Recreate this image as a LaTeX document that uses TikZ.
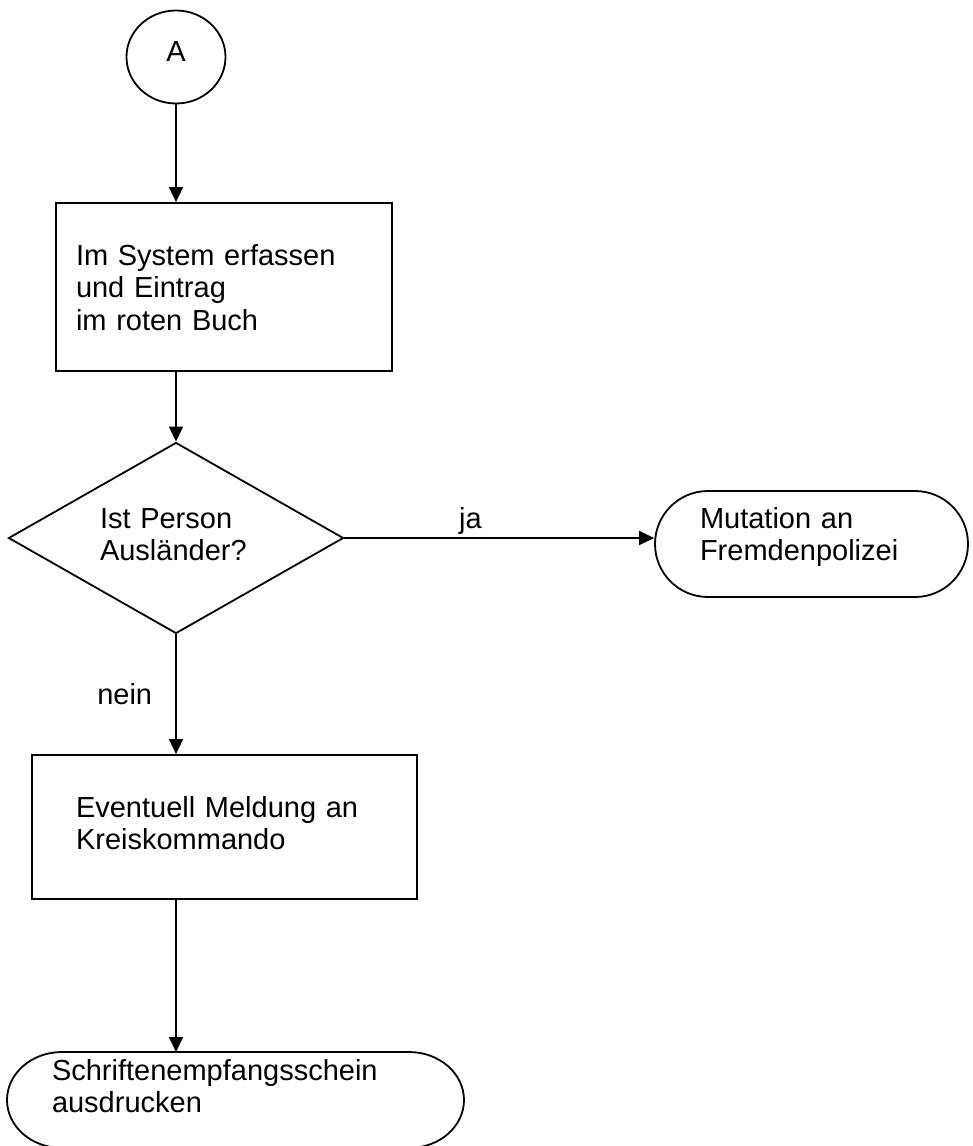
\documentclass[tikz,border=0pt]{standalone}
\usepackage{fontspec}
\setmainfont{Liberation Sans}
\usetikzlibrary{shapes.geometric,arrows.meta}
\begin{document}
\begin{tikzpicture}[x=1pt,y=-1pt,line width=1.8pt,
  >={Triangle[length=15pt,width=14pt]},
  font=\fontsize{29pt}{32.5pt}\selectfont,
  txt/.style={align=left,inner ysep=2pt,text height=21pt},
  box/.style={draw,rectangle,txt},
  term/.style={box,rounded corners=#1},
  lbl/.style={inner sep=0pt}]
  \useasboundingbox (0,0) rectangle (973,1146);
  \node (a) at (176,57) [ellipse, draw, minimum width=99pt,
    minimum height=93pt, text depth=11pt] {A};
  \node (b) at (224,287) [box, minimum width=336pt, minimum height=168pt,
    inner xsep=20pt, text width=296pt, text depth=65pt]
    {Im System erfassen\\und Eintrag\\im roten Buch};
  \node (c) at (176,538) [diamond, draw, aspect=1.75, minimum width=335pt,
    minimum height=191pt, txt, inner xsep=0pt, text width=152pt,
    text depth=41pt] {Ist Person\\Ausländer?};
  \node (d) at (811.5,544) [term=53pt, minimum width=313pt, minimum height=106pt,
    inner xsep=45pt, text width=223pt, text depth=53pt]
    {Mutation an\\Fremdenpolizei};
  \node (e) at (224.5,827) [box, minimum width=385pt, minimum height=144pt,
    inner xsep=44pt, text width=297pt, text depth=41pt]
    {Eventuell Meldung an\\Kreiskommando};
  \node (f) at (235.5,1100) [txt, outer sep=0pt, minimum width=457pt,
    minimum height=96pt, inner xsep=45pt, text width=367pt, text depth=61pt]
    {Schriftenempfangsschein\\ausdrucken};
  % Rand mit elliptischen Enden
  \draw ([xshift=55pt]f.north west) -- ([xshift=-55pt]f.north east)
    arc[start angle=90, end angle=-90, x radius=55pt, y radius=48pt]
    -- ([xshift=55pt]f.south west)
    arc[start angle=270, end angle=90, x radius=55pt, y radius=48pt] -- cycle;
  % Verbindungen
  \draw[->] (a.south) -- (a.south |- b.north); \draw[->] (a |- b.south) -- (c.north);
  \draw[->] (c.east) -- (c.east -| d.west)
    node[lbl, pos=0.407, anchor=base, yshift=10pt] {ja};
  \draw[->] (c.south) -- (c.south |- e.north)
    node[lbl, pos=0.587, anchor=base east, xshift=-23pt] {nein};
  \draw[->] (a |- e.south) -- (a |- f.north);
\end{tikzpicture}
\end{document}
